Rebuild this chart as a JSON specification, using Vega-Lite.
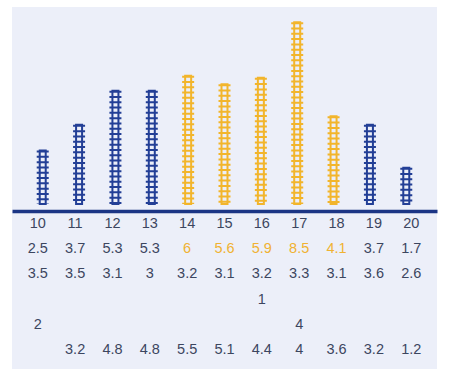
{
  "$schema": "https://vega.github.io/schema/vega-lite/v6.json",
  "padding": {"left": 12, "top": 7, "right": 13, "bottom": 7},
  "background": "white",
  "spacing": 0,
  "config": {"view": {"fill": "#eceff9", "stroke": null}},
  "datasets": {
    "bars": [
      {"col": 10, "value": 2.5, "highlight": false},
      {"col": 11, "value": 3.7, "highlight": false},
      {"col": 12, "value": 5.3, "highlight": false},
      {"col": 13, "value": 5.3, "highlight": false},
      {"col": 14, "value": 6.0, "highlight": true},
      {"col": 15, "value": 5.6, "highlight": true},
      {"col": 16, "value": 5.9, "highlight": true},
      {"col": 17, "value": 8.5, "highlight": true},
      {"col": 18, "value": 4.1, "highlight": true},
      {"col": 19, "value": 3.7, "highlight": false},
      {"col": 20, "value": 1.7, "highlight": false}
    ],
    "cells": [
      {"col": 10, "line": 1, "label": "10", "highlight": false},
      {"col": 11, "line": 1, "label": "11", "highlight": false},
      {"col": 12, "line": 1, "label": "12", "highlight": false},
      {"col": 13, "line": 1, "label": "13", "highlight": false},
      {"col": 14, "line": 1, "label": "14", "highlight": false},
      {"col": 15, "line": 1, "label": "15", "highlight": false},
      {"col": 16, "line": 1, "label": "16", "highlight": false},
      {"col": 17, "line": 1, "label": "17", "highlight": false},
      {"col": 18, "line": 1, "label": "18", "highlight": false},
      {"col": 19, "line": 1, "label": "19", "highlight": false},
      {"col": 20, "line": 1, "label": "20", "highlight": false},
      {"col": 10, "line": 2, "label": "2.5", "highlight": false},
      {"col": 11, "line": 2, "label": "3.7", "highlight": false},
      {"col": 12, "line": 2, "label": "5.3", "highlight": false},
      {"col": 13, "line": 2, "label": "5.3", "highlight": false},
      {"col": 14, "line": 2, "label": "6", "highlight": true},
      {"col": 15, "line": 2, "label": "5.6", "highlight": true},
      {"col": 16, "line": 2, "label": "5.9", "highlight": true},
      {"col": 17, "line": 2, "label": "8.5", "highlight": true},
      {"col": 18, "line": 2, "label": "4.1", "highlight": true},
      {"col": 19, "line": 2, "label": "3.7", "highlight": false},
      {"col": 20, "line": 2, "label": "1.7", "highlight": false},
      {"col": 10, "line": 3, "label": "3.5", "highlight": false},
      {"col": 11, "line": 3, "label": "3.5", "highlight": false},
      {"col": 12, "line": 3, "label": "3.1", "highlight": false},
      {"col": 13, "line": 3, "label": "3", "highlight": false},
      {"col": 14, "line": 3, "label": "3.2", "highlight": false},
      {"col": 15, "line": 3, "label": "3.1", "highlight": false},
      {"col": 16, "line": 3, "label": "3.2", "highlight": false},
      {"col": 17, "line": 3, "label": "3.3", "highlight": false},
      {"col": 18, "line": 3, "label": "3.1", "highlight": false},
      {"col": 19, "line": 3, "label": "3.6", "highlight": false},
      {"col": 20, "line": 3, "label": "2.6", "highlight": false},
      {"col": 16, "line": 4, "label": "1", "highlight": false},
      {"col": 10, "line": 5, "label": "2", "highlight": false},
      {"col": 17, "line": 5, "label": "4", "highlight": false},
      {"col": 11, "line": 6, "label": "3.2", "highlight": false},
      {"col": 12, "line": 6, "label": "4.8", "highlight": false},
      {"col": 13, "line": 6, "label": "4.8", "highlight": false},
      {"col": 14, "line": 6, "label": "5.5", "highlight": false},
      {"col": 15, "line": 6, "label": "5.1", "highlight": false},
      {"col": 16, "line": 6, "label": "4.4", "highlight": false},
      {"col": 17, "line": 6, "label": "4", "highlight": false},
      {"col": 18, "line": 6, "label": "3.6", "highlight": false},
      {"col": 19, "line": 6, "label": "3.2", "highlight": false},
      {"col": 20, "line": 6, "label": "1.2", "highlight": false}
    ]
  },
  "resolve": {"scale": {"x": "independent"}},
  "vconcat": [
    {
      "width": 425,
      "height": 203,
      "data": {"name": "bars"},
      "encoding": {
        "x": {"field": "col", "type": "ordinal", "scale": {"padding": 0.69}, "axis": null},
        "y": {"field": "value", "type": "quantitative", "scale": {"domain": [-0.28, 9.21]}, "axis": null},
        "y2": {"datum": 0}
      },
      "layer": [
        {
          "mark": {"type": "rule", "strokeWidth": 12, "strokeDash": [2, 3.3]},
          "encoding": {
            "color": {"condition": {"test": "datum.highlight", "value": "#f2b52c"}, "value": "#233f96"}
          }
        },
        {
          "mark": {"type": "bar", "width": 6, "fill": "transparent", "strokeWidth": 2},
          "encoding": {
            "stroke": {"condition": {"test": "datum.highlight", "value": "#f2b52c"}, "value": "#233f96"}
          }
        }
      ]
    },
    {
      "width": 425,
      "height": 158,
      "data": {"name": "cells"},
      "mark": {"type": "text", "fontSize": 14.5, "baseline": "middle", "font": "Liberation Sans"},
      "encoding": {
        "x": {
          "field": "col",
          "type": "ordinal",
          "scale": {"padding": 0.69},
          "axis": {"orient": "top", "labels": false, "ticks": false, "title": null, "grid": false, "domainColor": "#1b3585", "domainWidth": 3.5}
        },
        "y": {"field": "line", "type": "quantitative", "scale": {"domain": [0.5, 6.73], "reverse": true}, "axis": null},
        "text": {"field": "label"},
        "color": {"condition": {"test": "datum.highlight", "value": "#f0b232"}, "value": "#3c465f"}
      }
    }
  ]
}
